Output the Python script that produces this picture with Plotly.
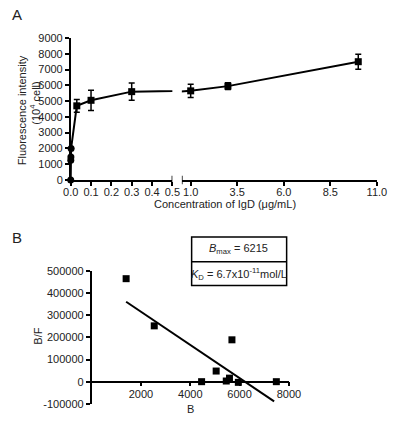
import numpy as np
import plotly.graph_objects as go

# ---------------- data ----------------
# Panel A: saturation binding curve
conc = [0.0, 0.0005, 0.001, 0.002, 0.03, 0.1, 0.3, 1.0, 3.0, 10.0]
intensity = [0, 1250, 1450, 2000, 4700, 5050, 5600, 5650, 5950, 7500]
intensity_err = [0, 0, 0, 0, 400, 640, 550, 420, 220, 480]
a_y_ticks = [0, 1000, 2000, 3000, 4000, 5000, 6000, 7000, 8000, 9000]
a_x_ticks_left = [0.0, 0.1, 0.2, 0.3, 0.4, 0.5]
a_x_ticks_right = [1.0, 3.5, 6.0, 8.5, 11.0]

# Panel B: Scatchard plot
b_bound = [1400, 2540, 4460, 5050, 5460, 5590, 5690, 5950, 7490]
b_ratio = [465000, 252000, 0, 48000, 3000, 16000, 189000, -3000, 0]
fit_x = [1400, 7400]
fit_y = [361000, -89000]
b_y_ticks = [-100000, 0, 100000, 200000, 300000, 400000, 500000]
b_y_ticktext = ["-100000", "0", "100000", "200000", "300000", "400000", "500000"]
b_x_ticks = [2000, 4000, 6000, 8000]
bmax_text = "6215"
kd_text = "6.7x10<sup>-11</sup>mol/L"

# ---------------- layout helpers ----------------
W, H = 400, 421
FONT = "Liberation Sans, Arial, sans-serif"
def px(x):
    return x / W
def py(y):
    return 1 - y / H

conc_a = np.array(conc)
inten_a = np.array(intensity)
err_a = np.array(intensity_err)
left_mask = conc_a <= 0.5
right_mask = conc_a >= 1.0
symbols = np.where(conc_a < 0.01, "circle", "square")

fig = go.Figure()

line_style = dict(color="black", width=2)
for xa in ["x", "x2"]:
    fig.add_trace(go.Scatter(x=conc, y=intensity, mode="lines", line=line_style,
                             xaxis=xa, yaxis="y", showlegend=False, hoverinfo="skip"))

fig.add_trace(go.Scatter(
    x=conc_a[left_mask], y=inten_a[left_mask], mode="markers",
    marker=dict(color="black", size=7, symbol=list(symbols[left_mask])),
    error_y=dict(type="data", array=list(err_a[left_mask]), color="black", thickness=1.5, width=3),
    xaxis="x", yaxis="y", cliponaxis=False, showlegend=False))
fig.add_trace(go.Scatter(
    x=conc_a[right_mask], y=inten_a[right_mask], mode="markers",
    marker=dict(color="black", size=7, symbol=list(symbols[right_mask])),
    error_y=dict(type="data", array=list(err_a[right_mask]), color="black", thickness=1.5, width=3),
    xaxis="x2", yaxis="y", cliponaxis=False, showlegend=False))

# Panel B
fig.add_trace(go.Scatter(x=fit_x, y=fit_y, mode="lines", line=dict(color="black", width=2),
                         xaxis="x3", yaxis="y3", showlegend=False))
fig.add_trace(go.Scatter(x=b_bound, y=b_ratio, mode="markers",
                         marker=dict(color="black", size=7, symbol="square"),
                         xaxis="x3", yaxis="y3", cliponaxis=False, showlegend=False))

tickfont = dict(family=FONT, size=11, color="#222")
axis_common = dict(showline=True, linecolor="black", linewidth=1.5, ticks="outside",
                   ticklen=4, tickwidth=1.5, tickcolor="black", showgrid=False,
                   zeroline=False, tickfont=tickfont, fixedrange=True)

b_zero_frac = (0 - b_y_ticks[0]) / (b_y_ticks[-1] - b_y_ticks[0])
b_dom = [py(409.5), py(272.7)]

fig.update_layout(
    width=W, height=H, autosize=False,
    margin=dict(l=0, r=0, t=0, b=0),
    paper_bgcolor="white", plot_bgcolor="white",
    font=dict(family=FONT, size=11, color="#222"),
    xaxis=dict(domain=[px(66), px(173)], range=[0, 0.5], anchor="y",
               tickvals=a_x_ticks_left, tickformat=".1f", ticklabelstandoff=-3, **axis_common),
    xaxis2=dict(domain=[px(183), px(388.3)], range=[0.525, 11.0], anchor="y",
                tickvals=a_x_ticks_right, tickformat=".1f", ticklabelstandoff=-3, **axis_common),
    yaxis=dict(domain=[py(179), py(33)], range=[0, 9000], anchor="x",
               tickvals=a_y_ticks, **axis_common),
    xaxis3=dict(domain=[px(88), px(295.7)], range=[0, 8000], anchor="free",
                position=b_dom[0] + b_zero_frac * (b_dom[1] - b_dom[0]),
                tickvals=b_x_ticks, ticklabelstandoff=-2, **axis_common),
    yaxis3=dict(domain=b_dom, range=[b_y_ticks[0], b_y_ticks[-1]], anchor="x3",
                tickvals=b_y_ticks, ticktext=b_y_ticktext, **axis_common),
)

# axis break marks
fig.add_shape(type="line", xref="x", yref="y domain", x0=0.5, x1=0.5, y0=-0.03, y1=0.03,
              line=dict(color="black", width=1.5))
fig.add_shape(type="line", xref="x2", yref="y domain", x0=0.525, x1=0.525, y0=-0.03, y1=0.03,
              line=dict(color="black", width=1.5))

# parameter box
fig.add_shape(type="rect", xref="paper", yref="paper", x0=px(193.3), x1=px(293.3),
              y0=py(287.7), y1=py(237.7), line=dict(color="black", width=1.5))
fig.add_shape(type="line", xref="paper", yref="paper", x0=px(193.3), x1=px(293.3),
              y0=py(263.3), y1=py(263.3), line=dict(color="black", width=1.5))

def ann(text, x, y, size=11, angle=0):
    fig.add_annotation(text=text, x=px(x), y=py(y), xref="paper", yref="paper",
                       showarrow=False, xanchor="center", yanchor="middle",
                       textangle=angle, font=dict(family=FONT, size=size, color="#222"))

ann("A", 9, 9, size=15)
ann("B", 9, 238, size=15)
ann("Fluorescence intensity", 15, 107, angle=-90)
ann("(10<sup>4</sup> cell)", 29, 100, angle=-90)
ann("Concentration of IgD (\u03bcg/mL)", 228, 204)
ann("B/F", 32, 340, angle=-90)
ann("B", 192, 415)
ann("<i>B</i><sub>max</sub> = " + bmax_text, 243, 250)
ann("<i>K</i><sub>D</sub> = " + kd_text, 243, 276)

fig.write_html("out.html", config={"displayModeBar": False},
               post_script="document.body.style.margin='0';document.body.style.overflow='hidden';")
